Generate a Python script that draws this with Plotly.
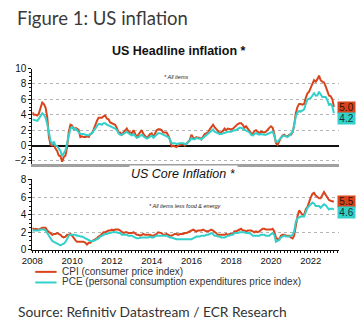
import pandas as pd
import plotly.graph_objects as go

# ---------------- data (YoY %, monthly, Jan 2008 - Mar 2023) ----------------
cpi_headline = [
    4.3, 4.0, 4.0, 3.9, 4.2, 5.0, 5.6, 5.4, 4.9, 3.7, 1.1, 0.1,
    0.0, 0.2, -0.4, -0.7, -1.3, -1.4, -2.1, -1.5, -1.3, -0.2, 1.8, 2.7,
    2.6, 2.1, 2.3, 2.2, 2.0, 1.1, 1.2, 1.1, 1.1, 1.2, 1.1, 1.5,
    1.6, 2.1, 2.7, 3.2, 3.6, 3.6, 3.6, 3.8, 3.9, 3.5, 3.4, 3.0,
    2.9, 2.9, 2.7, 2.3, 1.7, 1.7, 1.4, 1.7, 2.0, 2.2, 1.8, 1.7,
    1.6, 2.0, 1.5, 1.1, 1.4, 1.8, 2.0, 1.5, 1.2, 1.0, 1.2, 1.5,
    1.6, 1.1, 1.5, 2.0, 2.1, 2.1, 2.0, 1.7, 1.7, 1.7, 1.3, 0.8,
    -0.1, 0.0, -0.1, -0.2, 0.0, 0.1, 0.2, 0.2, 0.0, 0.2, 0.5, 0.7,
    1.4, 1.0, 0.9, 1.1, 1.0, 1.0, 0.8, 1.1, 1.5, 1.6, 1.7, 2.1,
    2.5, 2.7, 2.4, 2.2, 1.9, 1.6, 1.7, 1.9, 2.2, 2.0, 2.2, 2.1,
    2.1, 2.2, 2.4, 2.5, 2.8, 2.9, 2.9, 2.7, 2.3, 2.5, 2.2, 1.9,
    1.6, 1.5, 1.9, 2.0, 1.8, 1.6, 1.8, 1.7, 1.7, 1.8, 2.1, 2.3,
    2.5, 2.3, 1.5, 0.3, 0.1, 0.6, 1.0, 1.3, 1.4, 1.2, 1.2, 1.4,
    1.4, 1.7, 2.6, 4.2, 5.0, 5.4, 5.4, 5.3, 5.4, 6.2, 6.8, 7.0,
    7.5, 7.9, 8.5, 8.3, 8.6, 9.1, 8.5, 8.3, 8.2, 7.7, 7.1, 6.5,
    6.4, 6.0, 5.0,
]
pce_headline = [
    3.4, 3.3, 3.2, 3.2, 3.5, 3.9, 4.2, 4.0, 3.6, 2.8, 1.4, 0.6,
    0.2, 0.5, 0.0, -0.1, -0.4, -0.7, -1.4, -0.9, -0.6, 0.3, 1.5, 2.2,
    2.4, 2.1, 2.2, 2.0, 1.8, 1.5, 1.5, 1.5, 1.4, 1.3, 1.3, 1.5,
    1.6, 1.9, 2.2, 2.6, 2.8, 2.8, 2.7, 2.9, 2.9, 2.7, 2.6, 2.5,
    2.5, 2.4, 2.2, 2.0, 1.6, 1.4, 1.4, 1.5, 1.7, 1.8, 1.6, 1.5,
    1.3, 1.5, 1.2, 1.0, 1.1, 1.3, 1.4, 1.2, 1.0, 0.9, 1.0, 1.2,
    1.3, 1.0, 1.2, 1.5, 1.6, 1.6, 1.5, 1.4, 1.4, 1.3, 1.1, 0.8,
    0.3, 0.3, 0.3, 0.2, 0.3, 0.3, 0.3, 0.3, 0.2, 0.2, 0.5, 0.6,
    1.0, 0.8, 0.8, 1.0, 0.9, 0.9, 0.8, 1.0, 1.2, 1.4, 1.5, 1.7,
    2.0, 2.1, 1.8, 1.7, 1.5, 1.5, 1.5, 1.6, 1.7, 1.7, 1.8, 1.8,
    1.8, 1.9, 2.0, 2.0, 2.2, 2.3, 2.3, 2.2, 2.0, 2.0, 1.8, 1.7,
    1.4, 1.3, 1.5, 1.6, 1.5, 1.4, 1.5, 1.4, 1.4, 1.4, 1.5, 1.6,
    1.8, 1.8, 1.3, 0.5, 0.5, 0.8, 1.0, 1.2, 1.3, 1.2, 1.1, 1.3,
    1.5, 1.8, 2.6, 3.8, 4.3, 4.5, 4.4, 4.6, 4.7, 5.4, 6.0, 6.1,
    6.2, 6.5, 6.8, 6.5, 6.5, 7.0, 6.6, 6.3, 6.3, 6.3, 5.9, 5.3,
    5.4, 5.1, 4.2,
]
cpi_core = [
    2.5, 2.3, 2.4, 2.3, 2.3, 2.4, 2.5, 2.5, 2.5, 2.2, 2.0, 1.8,
    1.7, 1.8, 1.8, 1.9, 1.8, 1.7, 1.5, 1.4, 1.5, 1.7, 1.7, 1.8,
    1.6, 1.3, 1.1, 0.9, 0.9, 0.9, 0.9, 0.9, 0.8, 0.6, 0.8, 0.8,
    1.0, 1.1, 1.2, 1.3, 1.5, 1.6, 1.8, 2.0, 2.0, 2.1, 2.2, 2.2,
    2.3, 2.2, 2.3, 2.3, 2.3, 2.2, 2.1, 1.9, 2.0, 2.0, 1.9, 1.9,
    1.9, 2.0, 1.9, 1.7, 1.7, 1.6, 1.7, 1.8, 1.7, 1.7, 1.7, 1.7,
    1.6, 1.6, 1.7, 1.8, 2.0, 1.9, 1.9, 1.7, 1.7, 1.8, 1.7, 1.6,
    1.6, 1.7, 1.8, 1.8, 1.7, 1.8, 1.8, 1.8, 1.9, 1.9, 2.0, 2.1,
    2.2, 2.3, 2.2, 2.1, 2.2, 2.2, 2.2, 2.3, 2.2, 2.1, 2.1, 2.2,
    2.3, 2.2, 2.0, 1.9, 1.7, 1.7, 1.7, 1.7, 1.7, 1.8, 1.7, 1.8,
    1.8, 1.8, 2.1, 2.1, 2.2, 2.3, 2.4, 2.2, 2.2, 2.1, 2.2, 2.2,
    2.2, 2.1, 2.0, 2.1, 2.0, 2.1, 2.2, 2.4, 2.4, 2.3, 2.3, 2.3,
    2.3, 2.4, 2.1, 1.4, 1.2, 1.2, 1.6, 1.7, 1.7, 1.6, 1.6, 1.6,
    1.4, 1.3, 1.6, 3.0, 3.8, 4.5, 4.3, 4.0, 4.0, 4.6, 4.9, 5.5,
    6.0, 6.4, 6.5, 6.2, 6.0, 5.9, 5.9, 6.3, 6.6, 6.3, 6.0, 5.7,
    5.6, 5.5, 5.5,
]
pce_core = [
    2.2, 2.2, 2.2, 2.2, 2.2, 2.3, 2.3, 2.3, 2.2, 1.9, 1.6, 1.3,
    1.0, 0.9, 0.8, 0.7, 0.6, 0.5, 0.6, 0.7, 0.9, 1.3, 1.6, 1.7,
    1.7, 1.7, 1.7, 1.6, 1.6, 1.5, 1.5, 1.4, 1.3, 1.2, 1.1, 1.0,
    1.0, 1.0, 1.1, 1.2, 1.3, 1.5, 1.6, 1.7, 1.8, 1.8, 1.9, 1.9,
    2.0, 2.0, 2.0, 2.0, 1.9, 1.9, 1.7, 1.7, 1.7, 1.7, 1.6, 1.6,
    1.6, 1.5, 1.4, 1.3, 1.3, 1.4, 1.4, 1.4, 1.4, 1.4, 1.4, 1.5,
    1.4, 1.4, 1.5, 1.6, 1.6, 1.6, 1.6, 1.6, 1.6, 1.6, 1.5, 1.4,
    1.4, 1.3, 1.3, 1.2, 1.2, 1.2, 1.2, 1.2, 1.2, 1.2, 1.2, 1.2,
    1.2, 1.3, 1.4, 1.5, 1.5, 1.5, 1.6, 1.6, 1.6, 1.7, 1.7, 1.8,
    1.9, 1.8, 1.6, 1.6, 1.5, 1.5, 1.4, 1.4, 1.4, 1.5, 1.6, 1.6,
    1.7, 1.7, 1.9, 1.9, 1.9, 2.0, 2.0, 2.0, 2.0, 1.9, 1.9, 1.9,
    1.8, 1.6, 1.6, 1.6, 1.6, 1.6, 1.7, 1.7, 1.7, 1.6, 1.6, 1.6,
    1.8, 1.9, 1.7, 0.9, 1.0, 1.1, 1.4, 1.5, 1.6, 1.5, 1.5, 1.5,
    1.6, 1.7, 2.1, 3.2, 3.6, 3.7, 3.8, 3.8, 3.8, 4.3, 4.8, 5.0,
    5.2, 5.4, 5.3, 5.0, 5.0, 5.0, 4.8, 5.0, 5.2, 5.1, 4.8, 4.6,
    4.7, 4.7, 4.6,
]
dates = pd.date_range("2008-01-01", periods=len(cpi_headline), freq="MS")
year_ticks = [str(y) for y in range(2008, 2023, 2)]
top_yticks = [-2, 0, 2, 4, 6, 8, 10]
bottom_yticks = [0, 2, 4, 6, 8]

CPI_COL = "#d9441c"
PCE_COL = "#33d0ca"
W, H = 360, 327

fig = go.Figure()
fig.add_trace(go.Scatter(x=dates, y=cpi_headline, mode="lines", line=dict(color=CPI_COL, width=2),
                         xaxis="x", yaxis="y", showlegend=False))
fig.add_trace(go.Scatter(x=dates, y=pce_headline, mode="lines", line=dict(color=PCE_COL, width=2),
                         xaxis="x", yaxis="y", showlegend=False))
fig.add_trace(go.Scatter(x=dates, y=cpi_core, mode="lines", line=dict(color=CPI_COL, width=2),
                         xaxis="x2", yaxis="y2", showlegend=False))
fig.add_trace(go.Scatter(x=dates, y=pce_core, mode="lines", line=dict(color=PCE_COL, width=2),
                         xaxis="x2", yaxis="y2", showlegend=False))

def py(px):
    return 1 - px / H

xdom = [22 / W, 338 / W]
xrange_ = ["2008-01-01", "2023-05-28"]
axfont = dict(family="Liberation Sans, Arial", size=10, color="#111")
xfont = dict(family="Liberation Sans, Arial", size=9.5, color="#111")
grid = dict(showgrid=True, gridcolor="#b4b4b4", gridwidth=1, griddash="dot")

fig.update_layout(
    width=W, height=H, margin=dict(l=0, r=0, t=0, b=0),
    paper_bgcolor="white", plot_bgcolor="white",
    font=axfont,
    xaxis=dict(domain=xdom, range=xrange_, type="date", anchor="y",
               showticklabels=False, showgrid=False, ticks="",
               showline=True, linecolor="#a0a0a0", linewidth=3, zeroline=False),
    yaxis=dict(domain=[py(164), py(65)], range=[-2.4, 10], tickvals=top_yticks,
               ticks="outside", ticklen=3, tickcolor="#111", showline=True, linecolor="#111",
               linewidth=1, zeroline=True, zerolinecolor="#111", zerolinewidth=1.5,
               minor=dict(dtick=0.5, ticks="outside", ticklen=2, tickcolor="#111", showgrid=False),
               tickfont=axfont, **grid),
    xaxis2=dict(domain=xdom, range=xrange_, type="date", anchor="y2",
                tickvals=[f"{y}-01-01" for y in year_ticks], ticktext=year_ticks,
                ticks="outside", ticklen=2, tickcolor="#111", showgrid=False,
                showline=True, linecolor="#111", linewidth=1, zeroline=False,
                minor=dict(dtick="M2", ticks="outside", ticklen=2, tickcolor="#111", showgrid=False),
                tickfont=xfont),
    yaxis2=dict(domain=[py(253), py(180)], range=[0, 8.05], tickvals=bottom_yticks,
                ticks="outside", ticklen=3, tickcolor="#111", showline=True, linecolor="#111",
                linewidth=1, zeroline=False,
                minor=dict(dtick=0.5, ticks="outside", ticklen=2, tickcolor="#111", showgrid=False),
                tickfont=axfont, **grid),
)

ann = []
ann.append(dict(text="Figure 1: US inflation", x=4 / W, y=py(12), xref="paper", yref="paper",
                xanchor="left", yanchor="middle", showarrow=False,
                font=dict(family="Lato", size=18.5, color="#3a3a3a")))
ann.append(dict(text="<b>US Headline inflation *</b>", x=173 / W, y=py(47), xref="paper", yref="paper",
                xanchor="center", yanchor="middle", showarrow=False,
                font=dict(family="Liberation Sans, Arial", size=12.5, color="#111")))
ann.append(dict(text="<i>* All items</i>", x=170 / W, y=py(74), xref="paper", yref="paper",
                xanchor="center", yanchor="middle", showarrow=False,
                font=dict(family="Liberation Sans, Arial", size=5.5, color="#222")))
ann.append(dict(text="<i>US Core Inflation *</i>", x=178 / W, y=py(174), xref="paper", yref="paper",
                xanchor="center", yanchor="middle", showarrow=False, bgcolor="white",
                font=dict(family="Liberation Sans, Arial", size=12.5, color="#111")))
ann.append(dict(text="<i>* All items less food &amp; energy</i>", x=180 / W, y=py(208), xref="paper",
                yref="paper", xanchor="center", yanchor="middle", showarrow=False,
                font=dict(family="Liberation Sans, Arial", size=5.5, color="#222")))
ann.append(dict(text="Source: Refinitiv Datastream / ECR Research", x=5 / W, y=py(317), xref="paper",
                yref="paper", xanchor="left", yanchor="middle", showarrow=False,
                font=dict(family="Lato", size=13.8, color="#333")))

# value boxes from last data points
boxes = [
    (cpi_headline[-1], CPI_COL, 105.5, "#2a1410"),
    (pce_headline[-1], PCE_COL, 116.5, "#15302f"),
    (cpi_core[-1], CPI_COL, 203, "#2a1410"),
    (pce_core[-1], PCE_COL, 214.5, "#15302f"),
]
for val, col, ypx, tcol in boxes:
    ann.append(dict(text=f"{val:.1f}", x=346.5 / W, y=py(ypx), xref="paper", yref="paper",
                    xanchor="center", yanchor="middle", showarrow=False, bgcolor=col,
                    width=15, height=9, borderpad=1,
                    font=dict(family="Liberation Sans, Arial", size=10, color=tcol)))

# legend
legend_items = [("CPI (consumer price index)", CPI_COL, 276),
                ("PCE (personal consumption expenditures price index)", PCE_COL, 287)]
shapes = []
for label, col, ypx in legend_items:
    shapes.append(dict(type="line", xref="paper", yref="paper", x0=25 / W, x1=47 / W,
                       y0=py(ypx), y1=py(ypx), line=dict(color=col, width=2)))
    ann.append(dict(text=label, x=52 / W, y=py(ypx - 0.5), xref="paper", yref="paper",
                    xanchor="left", yanchor="middle", showarrow=False, borderpad=0,
                    font=dict(family="Liberation Sans, Arial", size=10, color="#333")))

fig.update_layout(annotations=ann, shapes=shapes)
fig.write_html("out.html")
